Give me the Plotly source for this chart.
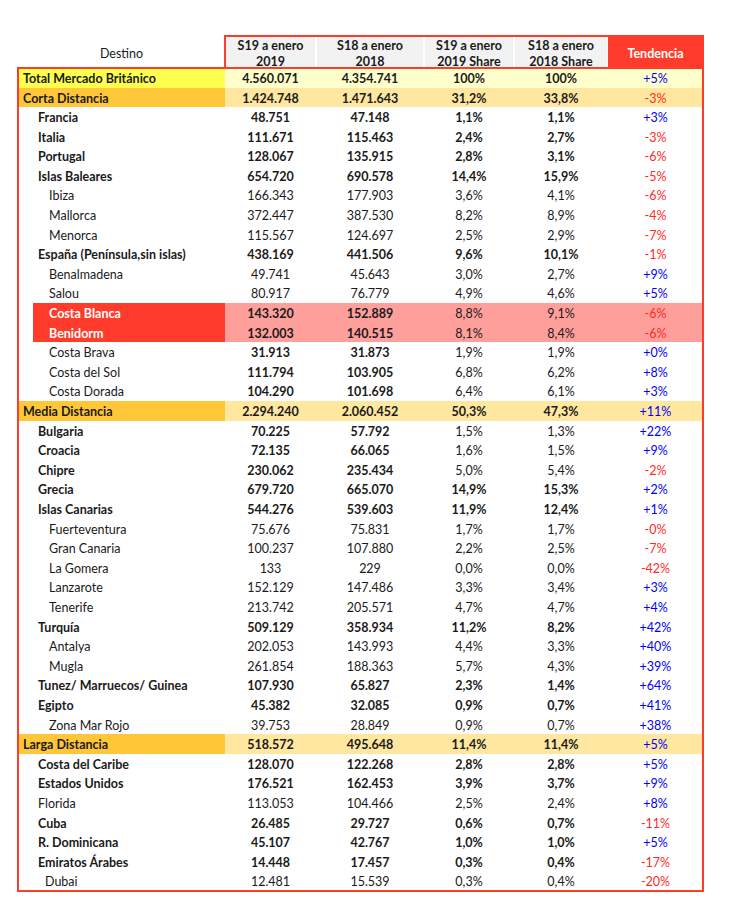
import plotly.graph_objects as go

# ---------------- data ----------------
destinos = [
    "Total Mercado Británico", "Corta Distancia", "Francia", "Italia", "Portugal",
    "Islas Baleares", "Ibiza", "Mallorca", "Menorca", "España (Península,sin islas)",
    "Benalmadena", "Salou", "Costa Blanca", "Benidorm", "Costa Brava", "Costa del Sol",
    "Costa Dorada", "Media Distancia", "Bulgaria", "Croacia", "Chipre", "Grecia",
    "Islas Canarias", "Fuerteventura", "Gran Canaria", "La Gomera", "Lanzarote",
    "Tenerife", "Turquía", "Antalya", "Mugla", "Tunez/ Marruecos/ Guinea", "Egipto",
    "Zona Mar Rojo", "Larga Distancia", "Costa del Caribe", "Estados Unidos", "Florida",
    "Cuba", "R. Dominicana", "Emiratos Árabes", "Dubai",
]
s19_enero_2019 = [
    "4.560.071", "1.424.748", "48.751", "111.671", "128.067", "654.720", "166.343",
    "372.447", "115.567", "438.169", "49.741", "80.917", "143.320", "132.003", "31.913",
    "111.794", "104.290", "2.294.240", "70.225", "72.135", "230.062", "679.720",
    "544.276", "75.676", "100.237", "133", "152.129", "213.742", "509.129", "202.053",
    "261.854", "107.930", "45.382", "39.753", "518.572", "128.070", "176.521",
    "113.053", "26.485", "45.107", "14.448", "12.481",
]
s18_enero_2018 = [
    "4.354.741", "1.471.643", "47.148", "115.463", "135.915", "690.578", "177.903",
    "387.530", "124.697", "441.506", "45.643", "76.779", "152.889", "140.515", "31.873",
    "103.905", "101.698", "2.060.452", "57.792", "66.065", "235.434", "665.070",
    "539.603", "75.831", "107.880", "229", "147.486", "205.571", "358.934", "143.993",
    "188.363", "65.827", "32.085", "28.849", "495.648", "122.268", "162.453",
    "104.466", "29.727", "42.767", "17.457", "15.539",
]
share_2019 = [
    "100%", "31,2%", "1,1%", "2,4%", "2,8%", "14,4%", "3,6%", "8,2%", "2,5%", "9,6%",
    "3,0%", "4,9%", "8,8%", "8,1%", "1,9%", "6,8%", "6,4%", "50,3%", "1,5%", "1,6%",
    "5,0%", "14,9%", "11,9%", "1,7%", "2,2%", "0,0%", "3,3%", "4,7%", "11,2%", "4,4%",
    "5,7%", "2,3%", "0,9%", "0,9%", "11,4%", "2,8%", "3,9%", "2,5%", "0,6%", "1,0%",
    "0,3%", "0,3%",
]
share_2018 = [
    "100%", "33,8%", "1,1%", "2,7%", "3,1%", "15,9%", "4,1%", "8,9%", "2,9%", "10,1%",
    "2,7%", "4,6%", "9,1%", "8,4%", "1,9%", "6,2%", "6,1%", "47,3%", "1,3%", "1,5%",
    "5,4%", "15,3%", "12,4%", "1,7%", "2,5%", "0,0%", "3,4%", "4,7%", "8,2%", "3,3%",
    "4,3%", "1,4%", "0,7%", "0,7%", "11,4%", "2,8%", "3,7%", "2,4%", "0,7%", "1,0%",
    "0,4%", "0,4%",
]
tendencia = [
    "+5%", "-3%", "+3%", "-3%", "-6%", "-5%", "-6%", "-4%", "-7%", "-1%", "+9%", "+5%",
    "-6%", "-6%", "+0%", "+8%", "+3%", "+11%", "+22%", "+9%", "-2%", "+2%", "+1%",
    "-0%", "-7%", "-42%", "+3%", "+4%", "+42%", "+40%", "+39%", "+64%", "+41%", "+38%",
    "+5%", "+5%", "+9%", "+8%", "-11%", "+5%", "-17%", "-20%",
]
header_labels = [
    "Destino", "S19 a enero<br>2019", "S18 a enero<br>2018",
    "S19 a enero<br>2019 Share", "S18 a enero<br>2018 Share", "Tendencia",
]

# ---------------- styles ----------------
row_kind = [
    "total", "group", "country", "country", "country", "country", "sub", "sub", "sub",
    "country", "sub", "sub", "hl", "hl", "sub_b", "sub_b", "sub_b", "group",
    "country_n", "country_n", "country_n", "country", "country", "sub", "sub", "sub",
    "sub", "sub", "country", "sub", "sub", "country", "country", "sub", "group",
    "country", "country", "sub1", "country", "country", "country", "sub15",
]
STYLE = {
    #            label_fill  value_fill  lbl_bold num_bold shr_bold indent lbl_color
    "total":     ("#FFFF4D", "#FFFFCC", True,  True,  True,  0, "#1a1a1a"),
    "group":     ("#FFC738", "#FFE79F", True,  True,  True,  0, "#1a1a1a"),
    "country":   ("#FFFFFF", "#FFFFFF", True,  True,  True,  1, "#1a1a1a"),
    "country_n": ("#FFFFFF", "#FFFFFF", True,  True,  False, 1, "#1a1a1a"),
    "sub":       ("#FFFFFF", "#FFFFFF", False, False, False, 2, "#1a1a1a"),
    "sub_b":     ("#FFFFFF", "#FFFFFF", False, True,  False, 2, "#1a1a1a"),
    "hl":        ("#FF3B2B", "#FF9F9C", True,  True,  False, 2, "#FFFFFF"),
    "sub1":      ("#FFFFFF", "#FFFFFF", False, False, False, 1, "#1a1a1a"),
    "sub15":     ("#FFFFFF", "#FFFFFF", False, False, False, 3, "#1a1a1a"),
}
INDENT_PX = {0: 5, 1: 20, 2: 31, 3: 27}   # label start, from table's left edge
HL_GAP = 15                               # white strip before highlighted labels
RED = "#FF3B2B"
TXT = "#1a1a1a"
FONT = "Lato"
FONT_SIZE = 12.5
PAGE_W, PAGE_H = 732, 909
BODY_MARGIN = 8                           # browser default body margin
W, H = PAGE_W - 2 * BODY_MARGIN, PAGE_H - 2 * BODY_MARGIN
TABLE_LEFT, TABLE_RIGHT = 18, 703         # page pixels
TABLE_TOP, TABLE_BOTTOM = 36, 891
HEADER_H = 32
PAD = 3
TEXT_DY = 2.0                             # baseline nudge, px
HDR_TEXT_DY = 2.5
col_widths = [207, 91, 108, 90, 94, 95]

n = len(destinos)
ROW_H = (TABLE_BOTTOM - TABLE_TOP - HEADER_H) / n
hdr_units = HEADER_H / ROW_H
hdr_center = -0.5 - hdr_units / 2
dy = TEXT_DY / ROW_H
x_edges = [0]
for wcol in col_widths:
    x_edges.append(x_edges[-1] + wcol)
table_w = x_edges[-1]
rows = list(range(n))
text_rows = [r + dy for r in rows]

fig = go.Figure()

# ---------- cell fills (horizontal bars on the axes) ----------
for j, wcol in enumerate(col_widths):
    colors, bases, widths = [], [], []
    for k in row_kind:
        lf, vf = STYLE[k][0], STYLE[k][1]
        gap = HL_GAP if (j == 0 and k == "hl") else 0
        colors.append(lf if j == 0 else vf)
        bases.append(x_edges[j] + gap)
        widths.append(wcol - gap)
    fig.add_trace(go.Bar(
        orientation="h", y=rows, x=widths, base=bases, width=1,
        marker=dict(color=colors, line=dict(width=0)),
        hoverinfo="skip", showlegend=False,
    ))

# header fills
hdr_fill = ["#FFFFFF", "#F2F2F2", "#F2F2F2", "#F2F2F2", "#F2F2F2", RED]
fig.add_trace(go.Bar(
    orientation="h", y=[hdr_center] * 6,
    x=[col_widths[0]] + [c - 2 for c in col_widths[1:5]] + [col_widths[5]],
    base=[x_edges[0]] + [x_edges[j] + 1 for j in range(1, 5)] + [x_edges[5]],
    width=[hdr_units - 0.1] * 6,
    marker=dict(color=hdr_fill, line=dict(width=0)),
    hoverinfo="skip", showlegend=False,
))


# ---------- texts ----------
def wt(on):
    return "bold" if on else "normal"


lbl_x = [INDENT_PX[STYLE[k][5]] for k in row_kind]
fig.add_trace(go.Scatter(
    x=lbl_x, y=text_rows, text=destinos, mode="text", textposition="middle right",
    textfont=dict(family=FONT, size=FONT_SIZE,
                  color=[STYLE[k][6] for k in row_kind],
                  weight=[wt(STYLE[k][2]) for k in row_kind]),
    hoverinfo="skip", showlegend=False,
))
value_cols = [s19_enero_2019, s18_enero_2018, share_2019, share_2018, tendencia]
for j, vals in enumerate(value_cols, start=1):
    xc = (x_edges[j] + x_edges[j + 1]) / 2
    if j <= 2:
        weights = [wt(STYLE[k][3]) for k in row_kind]
    elif j <= 4:
        weights = [wt(STYLE[k][4]) for k in row_kind]
    else:
        weights = ["normal"] * n
    if j == 5:
        colors = ["#0000FF" if v.startswith("+") else "#FF2A1F" for v in vals]
    else:
        colors = [TXT] * n
    fig.add_trace(go.Scatter(
        x=[xc] * n, y=text_rows, text=vals, mode="text", textposition="middle center",
        textfont=dict(family=FONT, size=FONT_SIZE, color=colors, weight=weights),
        hoverinfo="skip", showlegend=False,
    ))

# header texts
fig.add_trace(go.Scatter(
    x=[(x_edges[j] + x_edges[j + 1]) / 2 for j in range(6)],
    y=[hdr_center + HDR_TEXT_DY / ROW_H] * 6, text=header_labels, mode="text",
    textposition="middle center",
    textfont=dict(family=FONT, size=FONT_SIZE,
                  color=[TXT] * 5 + ["#FFFFFF"],
                  weight=["normal"] + ["bold"] * 5),
    hoverinfo="skip", showlegend=False,
))

# ---------- red frames ----------
shapes = [
    dict(type="rect", xref="x", yref="y", x0=0, x1=table_w, y0=-0.5, y1=n - 0.5,
         line=dict(color=RED, width=2), fillcolor="rgba(0,0,0,0)", layer="above"),
    dict(type="rect", xref="x", yref="y", x0=x_edges[1], x1=table_w,
         y0=-0.5 - hdr_units, y1=-0.5,
         line=dict(color=RED, width=2), fillcolor="rgba(0,0,0,0)", layer="above"),
]

pad_u = PAD / ROW_H
fig.update_layout(
    width=W, height=H,
    margin=dict(l=TABLE_LEFT - BODY_MARGIN - PAD,
                r=(BODY_MARGIN + W) - TABLE_RIGHT - PAD,
                t=TABLE_TOP - BODY_MARGIN - PAD,
                b=(BODY_MARGIN + H) - TABLE_BOTTOM - PAD,
                pad=0, autoexpand=False),
    paper_bgcolor="#FFFFFF", plot_bgcolor="#FFFFFF",
    barmode="overlay", bargap=0,
    xaxis=dict(range=[-PAD, table_w + PAD], visible=False, fixedrange=True),
    yaxis=dict(range=[n - 0.5 + pad_u, -0.5 - hdr_units - pad_u],
               visible=False, fixedrange=True),
    shapes=shapes,
    showlegend=False,
)
fig.write_html("out.html", config=dict(displayModeBar=False))
